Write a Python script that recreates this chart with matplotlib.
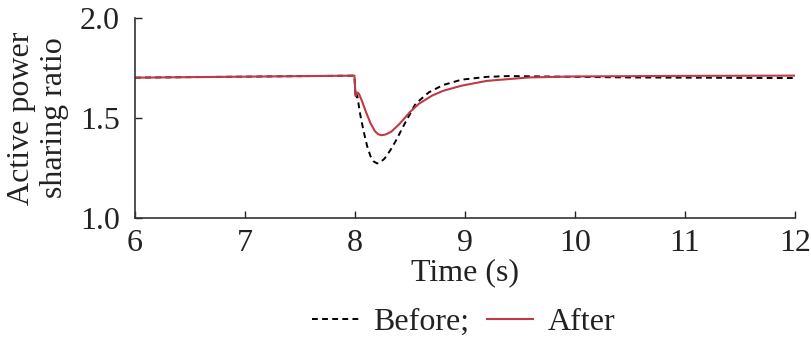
import matplotlib
matplotlib.use('Agg')
import matplotlib.pyplot as plt

plt.rcParams['font.family'] = ['Liberation Serif', 'DejaVu Serif']

# "Before" curve (dashed)
t_before = [6.0, 7.0, 7.995, 8.005, 8.02, 8.035, 8.05, 8.08, 8.11, 8.14, 8.17, 8.20, 8.23,
            8.27, 8.32, 8.37, 8.45, 8.55, 8.67, 8.80, 8.97, 9.20, 9.40, 9.70, 10.5, 12.0]
r_before = [1.702, 1.707, 1.712, 1.600, 1.615, 1.560, 1.510, 1.430, 1.360, 1.310, 1.283, 1.273, 1.278,
            1.298, 1.338, 1.385, 1.470, 1.571, 1.628, 1.665, 1.692, 1.706, 1.710, 1.708, 1.703, 1.700]

# "After" curve (solid red)
t_after = [6.0, 7.0, 7.995, 8.005, 8.02, 8.035, 8.06, 8.10, 8.14, 8.18, 8.21, 8.24, 8.28,
           8.33, 8.40, 8.50, 8.58, 8.70, 8.80, 8.97, 9.20, 9.58, 10.0, 11.0, 12.0]
r_after = [1.702, 1.707, 1.712, 1.610, 1.628, 1.622, 1.590, 1.530, 1.475, 1.435, 1.419, 1.414, 1.418,
           1.432, 1.468, 1.530, 1.571, 1.612, 1.636, 1.662, 1.686, 1.703, 1.708, 1.711, 1.712]

x_ticks = [6, 7, 8, 9, 10, 11, 12]
y_ticks = [1.0, 1.5, 2.0]

fig = plt.figure(figsize=(8.12, 3.41), dpi=100)
ax = fig.add_axes([0.1663, 0.3607, 0.8127, 0.5863])

ax.plot(t_before, r_before, color='black', linestyle=(0, (3, 2.2)), linewidth=1.4, label='Before;')
ax.plot(t_after, r_after, color='#bf3a45', linewidth=1.5, label='After')

ax.set_xlim(6, 12)
ax.set_ylim(1.0, 2.0)
ax.set_xticks(x_ticks)
ax.set_yticks(y_ticks)
ax.set_yticklabels(['1.0', '1.5', '2.0'])
ax.tick_params(direction='in', length=5, width=1, labelsize=23, colors='#222222')
ax.tick_params(axis='x', pad=8)
ax.tick_params(axis='y', pad=11)
for side in ['top', 'right']:
    ax.spines[side].set_visible(False)
for side in ['left', 'bottom']:
    ax.spines[side].set_linewidth(1.2)
    ax.spines[side].set_color('#333333')

ax.set_xlabel('Time (s)', fontsize=23, labelpad=0, color='#222222')
ax.set_ylabel('Active power\nsharing ratio', fontsize=23, labelpad=8, color='#222222',
              linespacing=1.15)

fig.legend(loc='center', bbox_to_anchor=(0.571, 0.055), ncol=2, frameon=False,
           fontsize=23, handlelength=1.45, handletextpad=0.45, columnspacing=0.55,
           borderpad=0, labelcolor='#222222')

fig.savefig('out.png', dpi=100)
